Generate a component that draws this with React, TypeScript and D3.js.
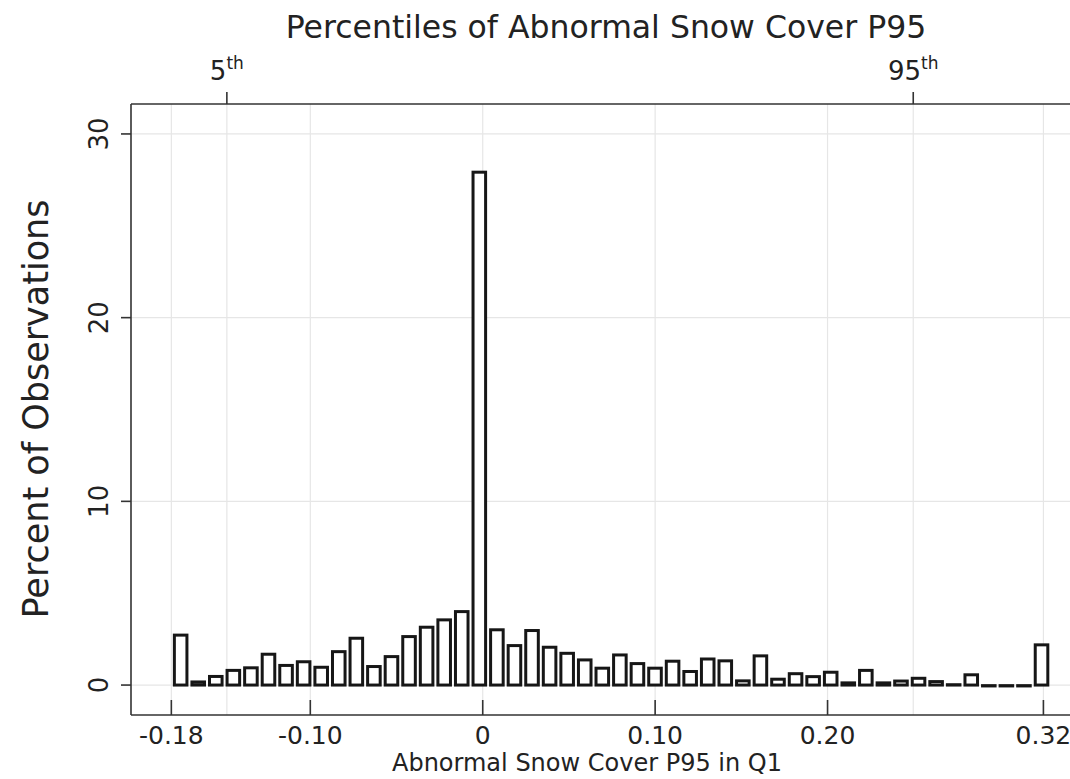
import React from "react";
import * as d3 from "d3";

// ---- data ----
const percentValues: number[] = [
  2.8, 0.25, 0.55, 0.88, 1.02, 1.76, 1.15, 1.35, 1.05, 1.9,
  2.63, 1.09, 1.63, 2.72, 3.23, 3.63, 4.08, 28.0, 3.09, 2.23,
  3.05, 2.14, 1.81, 1.45, 1.0, 1.72, 1.25, 1.0, 1.38, 0.82,
  1.5, 1.4, 0.31, 1.67, 0.4, 0.7, 0.54, 0.78, 0.2, 0.88,
  0.2, 0.3, 0.45, 0.27, 0.1, 0.64, 0.05, 0.05, 0.05, 2.27,
];
const BIN_START = -0.1803;
const BIN_WIDTH = 0.01019;

const xTickValues: number[] = [-0.1806, -0.1, 0, 0.1, 0.2, 0.3252];
const xTickLabels: string[] = ["-0.18", "-0.10", "0", "0.10", "0.20", "0.32"];
const yTickValues: number[] = [0, 10, 20, 30];
const pctTickValues: number[] = [-0.1484, 0.2497];
const pctTickMain: string[] = ["5", "95"];
const pctTickSup: string[] = ["th", "th"];

const TITLE_TOP = "Percentiles of Abnormal Snow Cover P95";
const TITLE_X = "Abnormal Snow Cover P95 in Q1";
const TITLE_Y = "Percent of Observations";

const W = 1070;
const H = 779;
const P = { left: 131, right: 1081, top: 104, bottom: 715 };
const FONT = "DejaVu Sans, sans-serif";
const TXT = "#222";
const AXIS = "#333";
const GRID = "#e6e6e6";

export default function App() {
  const x = d3.scaleLinear().domain([-0.204, 0.347]).range([P.left, P.right]);
  const y = d3.scaleLinear().domain([-1.63, 31.63]).range([P.bottom, P.top]);
  const binPx = x(BIN_START + BIN_WIDTH) - x(BIN_START);
  const innerW = binPx - 5;
  const sw = 3;

  return (
    <svg
      width={W}
      height={H}
      style={{ position: "absolute", left: 0, top: 0, background: "#fff" }}
      fontFamily={FONT}
    >
      <rect x={0} y={0} width={W} height={H} fill="#fff" />
      {/* grid */}
      <g stroke={GRID} strokeWidth={1.2}>
        {yTickValues.map((v) => (
          <line key={"gy" + v} x1={P.left} x2={P.right} y1={y(v)} y2={y(v)} />
        ))}
        {xTickValues.concat(pctTickValues).map((v, i) => (
          <line key={"gx" + i} x1={x(v)} x2={x(v)} y1={P.top} y2={P.bottom} />
        ))}
      </g>
      {/* bars */}
      <g fill="#fff" stroke="#161616" strokeWidth={sw}>
        {percentValues.map((v, i) => {
          const x0 = x(BIN_START + i * BIN_WIDTH);
          const top = y(v);
          const base = y(0);
          return (
            <rect
              key={"b" + i}
              x={x0 + (binPx - innerW) / 2}
              y={top + sw / 2}
              width={innerW}
              height={Math.max(0.3, base - top - sw / 2)}
            />
          );
        })}
      </g>
      {/* axes lines */}
      <g stroke={AXIS} strokeWidth={1.6}>
        <line x1={P.left} x2={W} y1={P.top} y2={P.top} />
        <line x1={P.left} x2={W} y1={P.bottom} y2={P.bottom} />
        <line x1={P.left} x2={P.left} y1={P.top} y2={P.bottom} />
        {yTickValues.map((v) => (
          <line key={"ty" + v} x1={P.left - 10} x2={P.left} y1={y(v)} y2={y(v)} />
        ))}
        {xTickValues.map((v, i) => (
          <line key={"tx" + i} x1={x(v)} x2={x(v)} y1={P.bottom - 15} y2={P.bottom} />
        ))}
        {pctTickValues.map((v, i) => (
          <line key={"tp" + i} x1={x(v)} x2={x(v)} y1={P.top - 12} y2={P.top} />
        ))}
      </g>
      {/* y tick labels */}
      {yTickValues.map((v) => (
        <text
          key={"ly" + v}
          transform={`translate(108,${y(v)}) rotate(-90)`}
          textAnchor="middle"
          fontSize={26}
          fill={TXT}
        >
          {v}
        </text>
      ))}
      {/* x tick labels */}
      {xTickValues.map((v, i) => (
        <text
          key={"lx" + i}
          x={x(v)}
          y={744}
          textAnchor="middle"
          fontSize={25}
          fill={TXT}
        >
          {xTickLabels[i]}
        </text>
      ))}
      {/* percentile labels */}
      {pctTickValues.map((v, i) => (
        <text key={"lp" + i} x={x(v)} y={80} textAnchor="middle" fontSize={26} fill={TXT}>
          {pctTickMain[i]}
          <tspan fontSize={17} dy={-11}>
            {pctTickSup[i]}
          </tspan>
        </text>
      ))}
      {/* titles */}
      <text x={606} y={38} textAnchor="middle" fontSize={31.5} fill={TXT}>
        {TITLE_TOP}
      </text>
      <text x={587} y={771} textAnchor="middle" fontSize={24} fill={TXT}>
        {TITLE_X}
      </text>
      <text
        transform={`translate(48,409) rotate(-90)`}
        textAnchor="middle"
        fontSize={35}
        fill={TXT}
      >
        {TITLE_Y}
      </text>
    </svg>
  );
}
